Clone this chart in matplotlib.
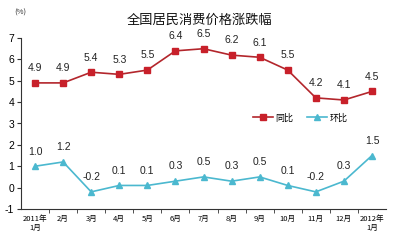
import numpy as np
import matplotlib
matplotlib.use('Agg')
import matplotlib.pyplot as plt

plt.rcParams['font.family'] = ['Noto Sans CJK SC', 'DejaVu Sans']

# data
months = ['2011年\n1月', '2月', '3月', '4月', '5月', '6月', '7月',
          '8月', '9月', '10月', '11月', '12月', '2012年\n1月']
tongbi = [4.9, 4.9, 5.4, 5.3, 5.5, 6.4, 6.5, 6.2, 6.1, 5.5, 4.2, 4.1, 4.5]
huanbi = [1.0, 1.2, -0.2, 0.1, 0.1, 0.3, 0.5, 0.3, 0.5, 0.1, -0.2, 0.3, 1.5]

red = '#B3262C'
red_m = '#C8202A'
cyan = '#4BB8CF'

fig = plt.figure(figsize=(4, 2.47), dpi=100)
ax = fig.add_axes([0.0525, 0.154, 0.9125, 0.692])

x = np.arange(len(months))
ax.plot(x, tongbi, color=red, lw=1.2, marker='s', ms=4.5,
        mfc=red_m, mec=red_m, label='同比')
ax.plot(x, huanbi, color=cyan, lw=1.2, marker='^', ms=5,
        mfc=cyan, mec=cyan, label='环比')

# value labels
for series in (tongbi, huanbi):
    for xi, v in zip(x, series):
        ax.annotate(f'{v:.1f}', (xi, v), xytext=(0, 7), textcoords='offset points',
                    ha='center', va='bottom', fontsize=7.5, color='#222222',
                    family='Liberation Sans')

ax.set_xlim(-0.5, len(months) - 0.5)
ax.set_ylim(-1, 7)
ax.set_yticks(range(-1, 8))
ax.set_yticklabels([str(v) for v in range(-1, 8)], family='Liberation Sans')
ax.set_xticks(x)
ax.set_xticklabels(months, fontsize=5.5, linespacing=1.3)
ax.set_xticks(np.arange(0.5, len(months) - 0.5, 1), minor=True)
ax.tick_params(axis='x', which='major', length=0, pad=4)
ax.tick_params(axis='x', which='minor', length=3, direction='out', color='#333333')
ax.tick_params(axis='y', labelsize=7.5, length=3, direction='out', color='#333333', pad=2)

for s in ['top', 'right']:
    ax.spines[s].set_visible(False)
ax.spines['left'].set_color('#333333')
ax.spines['bottom'].set_color('#333333')
ax.spines['left'].set_linewidth(0.8)
ax.spines['bottom'].set_linewidth(0.8)

fig.text(0.5, 0.918, '全国居民消费价格涨跌幅', ha='center', va='center', fontsize=9.5,
         color='#111111')
fig.text(0.052, 0.95, '(%)', ha='center', va='center', fontsize=5.5, color='#333333')

ax.legend(loc='center', bbox_to_anchor=(0.75, 0.522), bbox_transform=fig.transFigure,
          ncol=2, frameon=False, fontsize=6.5, handlelength=2.2, columnspacing=1.5,
          handletextpad=0.3)

fig.savefig('out.png', dpi=100)
